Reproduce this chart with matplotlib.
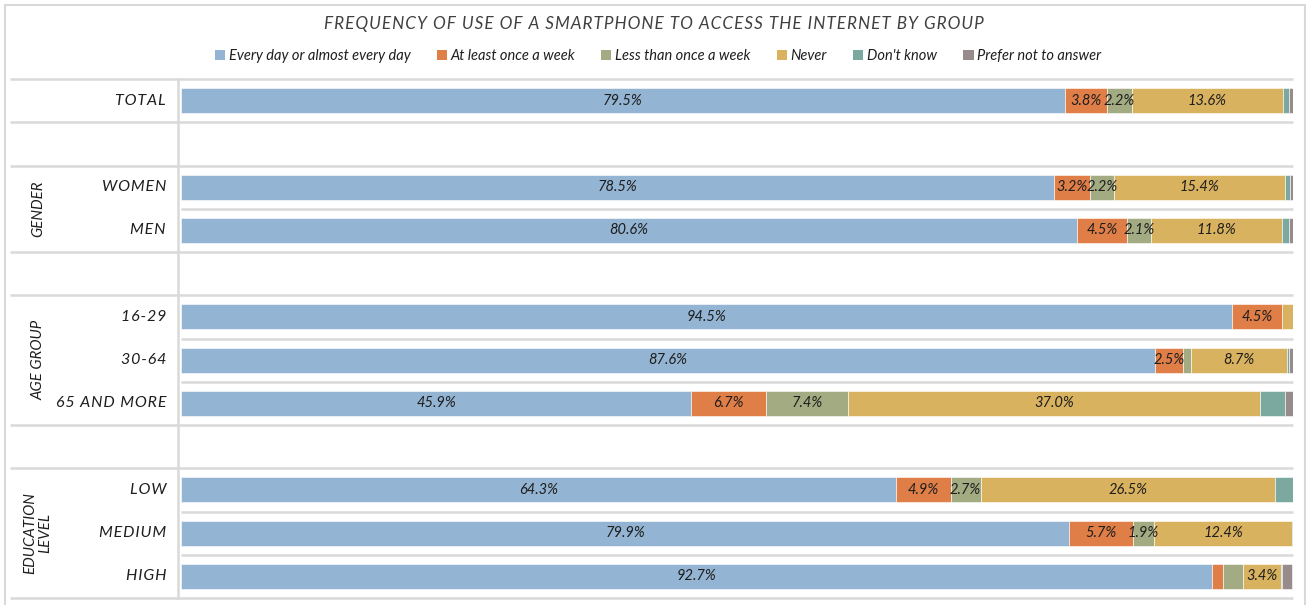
import matplotlib
matplotlib.use("Agg")
import matplotlib.pyplot as plt
from matplotlib.patches import Patch
from matplotlib.lines import Line2D

plt.rcParams['font.family'] = ['Lato', 'DejaVu Sans']

# ---- data -------------------------------------------------------------
rows = ["TOTAL", "", "WOMEN", "MEN", "", "16-29", "30-64", "65 AND MORE",
        "", "LOW", "MEDIUM", "HIGH"]
series_names = ["Every day or almost every day", "At least once a week",
                "Less than once a week", "Never", "Don't know",
                "Prefer not to answer"]
every_day = [79.5, None, 78.5, 80.6, None, 94.5, 87.6, 45.9, None, 64.3, 79.9, 92.7]
weekly    = [3.8, None, 3.2, 4.5, None, 4.5, 2.5, 6.7, None, 4.9, 5.7, 1.0]
less      = [2.2, None, 2.2, 2.1, None, 0.0, 0.7, 7.4, None, 2.7, 1.9, 1.8]
never     = [13.6, None, 15.4, 11.8, None, 1.0, 8.7, 37.0, None, 26.5, 12.4, 3.4]
dont_know = [0.5, None, 0.4, 0.6, None, 0.0, 0.1, 2.3, None, 1.6, 0.1, 0.1]
no_answer = [0.4, None, 0.3, 0.4, None, 0.0, 0.4, 0.7, None, 0.0, 0.0, 0.9]
groups = [("GENDER", 2, 3), ("AGE GROUP", 5, 7), ("EDUCATION\nLEVEL", 9, 11)]
title = "FREQUENCY OF USE OF A SMARTPHONE TO ACCESS THE INTERNET BY GROUP"

colors = ["#93B4D2", "#E07E47", "#A3AB82", "#D9B25F", "#7BA99F", "#978B8C"]
text_col = "#1E1E1E"
grid_col = "#D9D9D9"

series = [every_day, weekly, less, never, dont_know, no_answer]


def spaced(s, sep="\u200a"):
    """Insert a hair space between characters for a tracked-out look."""
    return sep.join(s)


# ---- figure -----------------------------------------------------------
W, H = 1306, 605
fig = plt.figure(figsize=(W / 100, H / 100), dpi=100)
x0_px, x1_px, y0_px, y1_px = 181, 1293, 79, 598
ax = fig.add_axes([x0_px / W, 1 - y1_px / H, (x1_px - x0_px) / W, (y1_px - y0_px) / H])
n = len(rows)
ax.set_xlim(0, 100)
ax.set_ylim(n - 0.5, -0.5)
ax.axis("off")


def px_to_x(px):
    return (px - x0_px) / (x1_px - x0_px) * 100


# stacked bars
left = [0.0] * n
for k, (vals, col) in enumerate(zip(series, colors)):
    for i, v in enumerate(vals):
        if v is None or v <= 0:
            continue
        ax.barh(i, v, left=left[i], height=0.58, color=col,
                edgecolor="white", linewidth=0.4)
        if k < 4 and v >= 1.9:
            ax.text(left[i] + v / 2, i, f"{v:.1f}%", ha="center", va="center",
                    fontsize=10.5, style="italic", color=text_col)
        left[i] += v

# row separators
full_x = px_to_x(10)
boundaries_full = {-0.5, 0.5, 1.5, 3.5, 4.5, 7.5, 8.5, 11.5}
for b in [i - 0.5 for i in range(n + 1)]:
    xs = full_x if b in boundaries_full else 0
    ax.plot([xs, 100], [b, b], color=grid_col, lw=1.8, clip_on=False,
            solid_capstyle="butt", zorder=0)
sep_x = px_to_x(178)
ax.plot([sep_x, sep_x], [-0.5, n - 0.5], color=grid_col, lw=1.8,
        clip_on=False, zorder=0)

# category labels
lab_x = px_to_x(166)
for i, r in enumerate(rows):
    if r:
        ax.text(lab_x, i, spaced(r), ha="right", va="center", fontsize=11.5,
                style="italic", color=text_col, clip_on=False)

# group labels
for name, a, b in groups:
    ax.text(px_to_x(38), (a + b) / 2, name,
            ha="center", va="center", rotation=90, fontsize=10.8,
            style="italic", color=text_col, clip_on=False, linespacing=1.05)

# title and legend
fig.text(654 / W, 1 - 24 / H, spaced(title), ha="center", va="center",
         fontsize=12.3, style="italic", color="#404040")
handles = [Patch(facecolor=c, edgecolor="none") for c in colors]
leg = fig.legend(handles, series_names, loc="center", ncol=6,
                 bbox_to_anchor=(658 / W, 1 - 56 / H), frameon=False,
                 handlelength=0.7, handleheight=0.7, handletextpad=0.25,
                 columnspacing=1.8, prop={"size": 10.5, "style": "italic"})
for t in leg.get_texts():
    t.set_color(text_col)

# outer frame (left, top, right)
fx0, fx1, fy1 = 4.5 / W, (W - 1.5) / W, 1 - 4.5 / H
for xs, ys in [([fx0, fx0], [0, fy1]), ([fx0, fx1], [fy1, fy1]), ([fx1, fx1], [fy1, 0])]:
    fig.add_artist(Line2D(xs, ys, transform=fig.transFigure, color=grid_col, lw=1.5))

fig.savefig("out.png", dpi=100)
